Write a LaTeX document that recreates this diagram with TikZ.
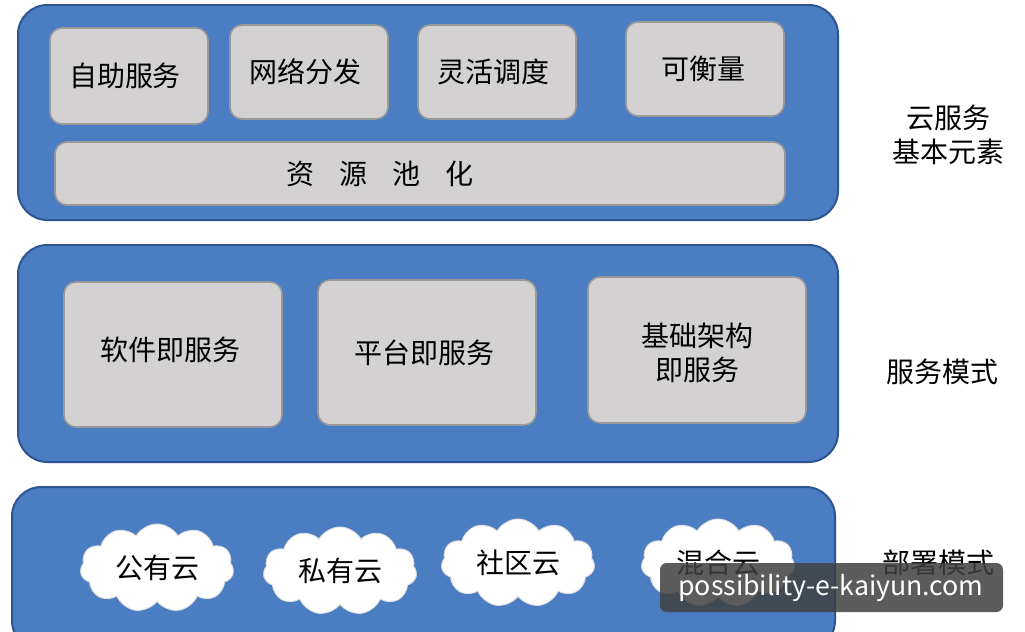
\documentclass[tikz,border=0pt]{standalone}
\usepackage{fontspec}
\setmainfont{Noto Sans CJK SC}
\usetikzlibrary{shapes.symbols}
\definecolor{panelblue}{HTML}{4A7DC2}
\definecolor{paneledge}{HTML}{2E5592}
\definecolor{boxgrey}{HTML}{D3D1D1}
\tikzset{every picture/.style={line width=0.75pt},
  panel/.style={draw=paneledge,fill=panelblue,line width=1.5pt,rounded corners=22pt},
  itembox/.style={draw=gray!80,fill=boxgrey,line width=1.2pt,rounded corners=9pt},
  itemtext/.style={font=\fontsize{21}{25}\selectfont,align=center,inner sep=0.75pt},
  sidetext/.style={font=\fontsize{21}{25}\selectfont,align=center,inner sep=0.75pt},
  cloudnode/.style={cloud,cloud puffs=11,cloud puff arc=120,aspect=1.8,fill=white,draw=gray!25,
    minimum width=115pt,minimum height=66pt,font=\fontsize{21}{25}\selectfont,inner sep=0pt}}
\begin{document}
\begin{tikzpicture}[x=0.75pt,y=0.75pt,yscale=-1,xscale=1]
\useasboundingbox[fill=white] (0,0) rectangle (1025,632);

% Panels
\draw[panel] (18,5) rectangle (838,220);
\draw[panel] (18,245) rectangle (838,462);
\draw[panel] (12,487) rectangle (835,650);

% Top layer items
\draw[itembox] (50,28) rectangle (208,124);
\draw[itembox] (230,25) rectangle (388,119);
\draw[itembox] (418,25) rectangle (576,119);
\draw[itembox] (626,22) rectangle (784,116);
\draw[itembox] (55,142) rectangle (785,205);
\node[itemtext] (selfserv) at (125,76) {自助服务};
\node[itemtext] (netdist) at (305,72) {网络分发};
\node[itemtext] (flexsched) at (493,72) {灵活调度};
\node[itemtext] (measure) at (703,69) {可衡量};
\node[itemtext] (pool) at (380,174) {资\hspace{0.9em}源\hspace{0.9em}池\hspace{0.9em}化};

% Middle layer items
\draw[itembox] (64,282) rectangle (282,427);
\draw[itembox] (318,280) rectangle (536,425);
\draw[itembox] (588,277) rectangle (806,423);
\node[itemtext] (saas) at (170,350) {软件即服务};
\node[itemtext] (paas) at (424,353) {平台即服务};
\node[itemtext] (iaas) at (697,353) {基础架构\\即服务};

% Bottom layer clouds
\node[cloudnode] (public) at (157,568) {公有云};
\node[cloudnode] (private) at (340,571) {私有云};
\node[cloudnode] (community) at (518,563) {社区云};
\node[cloudnode] (hybrid) at (718,563) {混合云};

% Side labels
\node[sidetext] (elements) at (948,135) {云服务\\基本元素};
\node[sidetext] (modes) at (942,372) {服务模式};
\node[sidetext] (deploy) at (938,563) {部署模式};

% Watermark
\draw[fill=black!75,draw=none,rounded corners=5pt,opacity=0.85] (660,563) rectangle (1003,612);
\node[text=white,font=\fontsize{20}{24}\selectfont,inner sep=0.75pt] (mark) at (831,588) {possibility-e-kaiyun.com};

\end{tikzpicture}
\end{document}
